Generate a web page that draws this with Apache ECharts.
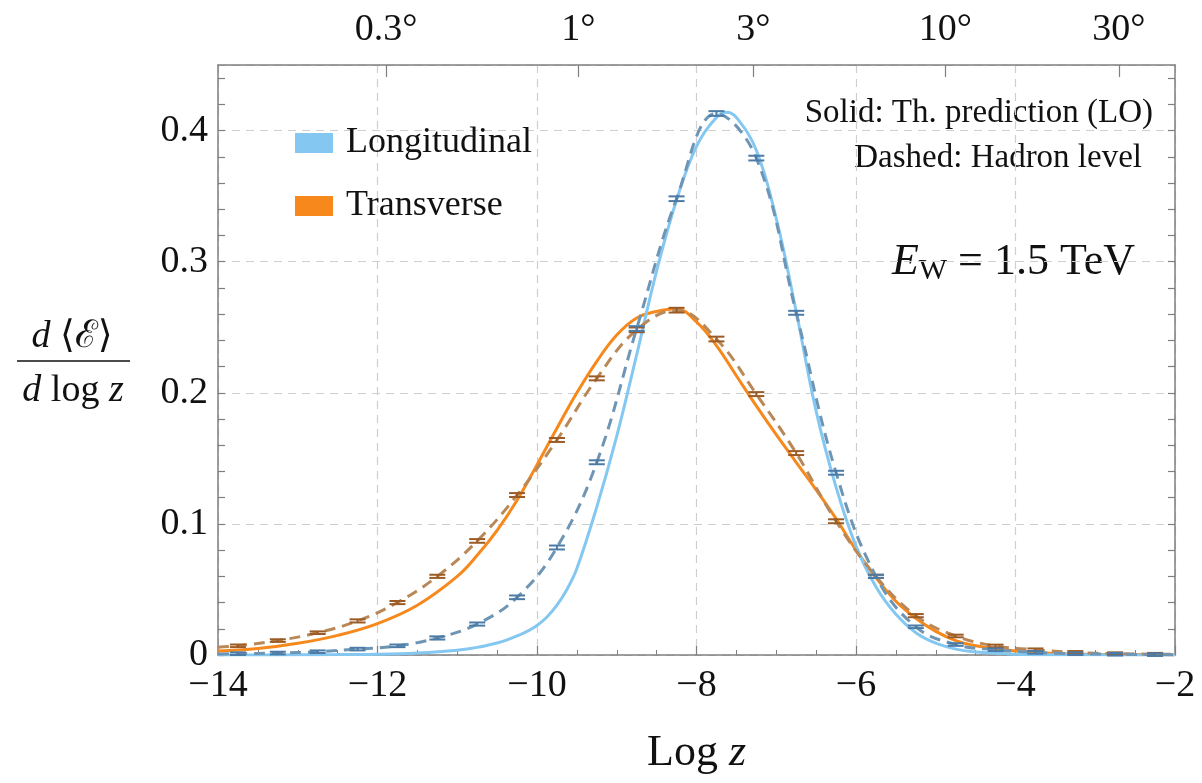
<!DOCTYPE html>
<html><head><meta charset="utf-8">
<script src="https://cdn.jsdelivr.net/npm/echarts@6/dist/echarts.min.js"></script>
<style>html,body{margin:0;padding:0;background:#fff}#c{width:1202px;height:783px}</style>
</head><body><div id="c"></div>
<script>
// ---- Data ----
// hadron-level bins (bin centres in log z)
const binX = [-13.75,-13.25,-12.75,-12.25,-11.75,-11.25,-10.75,-10.25,-9.75,-9.25,-8.75,-8.25,-7.75,-7.25,-6.75,-6.25,-5.75,-5.25,-4.75,-4.25,-3.75,-3.25,-2.75,-2.25];
const hadronL = [0.001,0.0015,0.0025,0.0045,0.007,0.013,0.0236,0.044,0.082,0.147,0.249,0.348,0.413,0.379,0.261,0.139,0.060,0.0215,0.008,0.004,0.002,0.001,0.0006,0.0003];
const hadronT = [0.007,0.011,0.017,0.026,0.040,0.060,0.087,0.122,0.164,0.211,0.248,0.263,0.241,0.199,0.154,0.102,0.060,0.030,0.0145,0.0069,0.004,0.002,0.001,0.0006];
const errL = [0.001,0.001,0.001,0.001,0.001,0.0012,0.0012,0.0014,0.0015,0.0015,0.0018,0.0018,0.0018,0.0018,0.0015,0.0015,0.0012,0.001,0.001,0.001,0.001,0.001,0.001,0.001];
const errT = [0.001,0.001,0.001,0.0012,0.0012,0.0012,0.0014,0.0015,0.0015,0.0015,0.0018,0.0018,0.0018,0.0015,0.0015,0.0015,0.0012,0.0012,0.001,0.001,0.001,0.001,0.001,0.001];
// dashed curves end points (at log z = -14 and -2)
const dashEndX = [-14, -2];
const dashEndL = [0.0007, 0.0002];
const dashEndT = [0.006, 0.0005];
// LO theory curves
const thLX = [-14,-13.5,-13,-12.5,-12,-11.5,-11,-10.75,-10.5,-10.375,-10.25,-10.125,-10,-9.875,-9.75,-9.625,-9.5,-9.25,-9,-8.75,-8.5,-8.25,-8,-7.75,-7.625,-7.5,-7.25,-7,-6.75,-6.5,-6.25,-6,-5.75,-5.5,-5.25,-5,-4.75,-4.5,-4,-3.5,-3,-2];
const thL  = [0,0,0.0001,0.0003,0.0006,0.0016,0.0037,0.0058,0.0092,0.0115,0.0145,0.018,0.0225,0.029,0.038,0.050,0.066,0.113,0.167,0.229,0.293,0.347,0.388,0.410,0.414,0.410,0.385,0.333,0.262,0.186,0.128,0.083,0.052,0.031,0.017,0.009,0.0045,0.0022,0.0006,0.0002,0.0001,0];
const thTX = [-14,-13.5,-13,-12.5,-12,-11.5,-11,-10.75,-10.5,-10.25,-10,-9.75,-9.5,-9.25,-9,-8.75,-8.5,-8.25,-8,-7.75,-7.5,-7.25,-7,-6.75,-6.5,-6.25,-6,-5.75,-5.5,-5.25,-5,-4.75,-4.5,-4,-3.5,-3,-2];
const thT  = [0.003,0.005,0.009,0.015,0.024,0.038,0.060,0.076,0.095,0.118,0.145,0.173,0.200,0.224,0.244,0.257,0.262,0.264,0.254,0.236,0.213,0.190,0.168,0.147,0.126,0.104,0.080,0.059,0.041,0.028,0.018,0.011,0.007,0.003,0.0012,0.0005,0.0001];
// axis ticks
const yTickLabels = ['0','0.1','0.2','0.3','0.4'];
const topDeg = [0.3, 1, 3, 10, 30];
const topLabels = ['0.3°','1°','3°','10°','30°'];

// ---- build ----
const FONT = '"Liberation Serif", "DejaVu Serif", serif';
const topPos = topDeg.map(d => 2 * Math.log(Math.sin(d * Math.PI / 360)));
const yMinor = []; for (let i = 0; i <= 22; i++) yMinor.push(+(i * 0.02).toFixed(2));
const zip = (xs, ys) => xs.map((x, i) => [x, ys[i]]);
const dashL = [[dashEndX[0], dashEndL[0]], ...zip(binX, hadronL), [dashEndX[1], dashEndL[1]]];
const dashT = [[dashEndX[0], dashEndT[0]], ...zip(binX, hadronT), [dashEndX[1], dashEndT[1]]];

const C = {
  blue: '#84c8f2', orange: '#f7891c',
  blueDash: '#6f95b5', orangeDash: '#b98858',
  blueErr: '#4b7ba6', orangeErr: '#9c5b24',
  frame: '#7f7f7f', grid: '#cfcfcf'
};

function errSeries(name, data, color) {
  return {
    type: 'custom', name: name, z: 10, silent: true,
    data: data,
    renderItem: function (params, api) {
      const x = api.value(0), y = api.value(1), e = api.value(2);
      const p0 = api.coord([x, y - e]);
      const p1 = api.coord([x, y + e]);
      const hw = 8;
      const st = { stroke: color, lineWidth: 2 };
      return {
        type: 'group', children: [
          { type: 'line', shape: { x1: p0[0], y1: p0[1], x2: p1[0], y2: p1[1] }, style: st },
          { type: 'line', shape: { x1: p0[0] - hw, y1: p0[1], x2: p0[0] + hw, y2: p0[1] }, style: st },
          { type: 'line', shape: { x1: p1[0] - hw, y1: p1[1], x2: p1[0] + hw, y2: p1[1] }, style: st }
        ]
      };
    }
  };
}

const chart = echarts.init(document.getElementById('c'), null, { renderer: 'canvas' });
const option = {
  backgroundColor: '#fff',
  animation: false,
  textStyle: { fontFamily: FONT },
  grid: { left: 218, right: 27, top: 65, bottom: 128 },
  legend: {
    data: ['Longitudinal', 'Transverse'],
    orient: 'vertical', left: 290, top: 120,
    icon: 'rect', itemWidth: 38, itemHeight: 20, itemGap: 27,
    textStyle: { fontFamily: FONT, fontSize: 36, color: '#111', lineHeight: 36, padding: [0, 0, 0, 8] }
  },
  xAxis: [{
    type: 'value', position: 'bottom', min: -14, max: -2, interval: 2,
    name: '{a|Log }{b|z}', nameLocation: 'middle', nameGap: 76,
    nameTextStyle: { rich: { a: { fontFamily: FONT, fontSize: 44, color: '#111' }, b: { fontFamily: FONT, fontSize: 44, fontStyle: 'italic', color: '#111' } } },
    axisLine: { show: true, onZero: false, lineStyle: { color: C.frame, width: 1.5 } },
    axisTick: { show: true, inside: true, length: 9, lineStyle: { color: C.frame, width: 1.2 } },
    minorTick: { show: true, splitNumber: 4, length: 5, lineStyle: { color: C.frame, width: 1 } },
    axisLabel: { margin: 12, fontFamily: FONT, fontSize: 38, color: '#111',
      formatter: v => (v < 0 ? '\u2212' + Math.abs(v) : String(v)) },
    splitLine: { show: true, lineStyle: { color: C.grid, type: [8, 6], width: 1.2 } },
    minorSplitLine: { show: false }
  }, {
    type: 'value', position: 'top', min: -14, max: -2,
    axisLine: { show: true, onZero: false, lineStyle: { color: C.frame, width: 1.5 } },
    axisTick: { show: true, inside: true, length: 12, customValues: topPos, lineStyle: { color: C.frame, width: 1.2 } },
    axisLabel: { show: true, customValues: topPos, margin: 16, fontFamily: FONT, fontSize: 38, color: '#111',
      formatter: v => { let k = 0, best = 1e9; topPos.forEach((p, i) => { const d = Math.abs(p - v); if (d < best) { best = d; k = i; } }); return topLabels[k]; } },
    splitLine: { show: false }
  }],
  yAxis: [{
    type: 'value', position: 'left', min: 0, max: 0.45, interval: 0.1,
    axisLine: { show: true, onZero: false, lineStyle: { color: C.frame, width: 1.5 } },
    axisTick: { show: false },
    axisLabel: { margin: 10, fontFamily: FONT, fontSize: 38, color: '#111', showMaxLabel: false,
      formatter: v => { const i = Math.round(v * 10); return Math.abs(v * 10 - i) < 1e-6 && i < yTickLabels.length ? yTickLabels[i] : ''; } },
    splitLine: { show: true, lineStyle: { color: C.grid, type: [8, 6], width: 1.2 } }
  }, {
    type: 'value', position: 'left', min: 0, max: 0.45,
    axisLine: { show: false },
    axisTick: { show: true, inside: true, length: 7, customValues: yMinor, lineStyle: { color: C.frame, width: 1.2 } },
    axisLabel: { show: false }, splitLine: { show: false }
  }, {
    type: 'value', position: 'right', min: 0, max: 0.45,
    axisLine: { show: true, onZero: false, lineStyle: { color: C.frame, width: 1.5 } },
    axisTick: { show: true, inside: true, length: 7, customValues: yMinor, lineStyle: { color: C.frame, width: 1.2 } },
    axisLabel: { show: false }, splitLine: { show: false }
  }],
  series: [
    { name: 'Transverse', type: 'line', data: zip(thTX, thT), smooth: 0.4, showSymbol: false, symbol: 'none', silent: true, z: 3,
      itemStyle: { color: C.orange }, lineStyle: { color: C.orange, width: 3 } },
    { name: 'Longitudinal', type: 'line', data: zip(thLX, thL), smooth: 0.4, showSymbol: false, symbol: 'none', silent: true, z: 3,
      itemStyle: { color: C.blue }, lineStyle: { color: C.blue, width: 3 } },
    { name: 'Transverse (hadron)', type: 'line', data: dashT, smooth: 0.4, showSymbol: false, symbol: 'none', silent: true, z: 4,
      itemStyle: { color: C.orangeDash }, lineStyle: { color: C.orangeDash, width: 3, type: [11, 7] } },
    { name: 'Longitudinal (hadron)', type: 'line', data: dashL, smooth: 0.4, showSymbol: false, symbol: 'none', silent: true, z: 4,
      itemStyle: { color: C.blueDash }, lineStyle: { color: C.blueDash, width: 3, type: [11, 7] } },
    errSeries('errT', binX.map((x, i) => [x, hadronT[i], errT[i]]), C.orangeErr),
    errSeries('errL', binX.map((x, i) => [x, hadronL[i], errL[i]]), C.blueErr)
  ],
  graphic: [
    { type: 'text', x: 72, y: 337, style: { text: '{i|d} \u27E8\u2130\u27E9', align: 'center', verticalAlign: 'middle', fontFamily: FONT, fontSize: 38, fill: '#111',
        rich: { i: { fontStyle: 'italic', fontFamily: FONT, fontSize: 38 } } } },
    { type: 'line', shape: { x1: 17, y1: 361, x2: 130, y2: 361 }, style: { stroke: '#111', lineWidth: 1.5 } },
    { type: 'text', x: 73, y: 391, style: { text: '{i|d} log {i|z}', align: 'center', verticalAlign: 'middle', fontFamily: FONT, fontSize: 38, fill: '#111',
        rich: { i: { fontStyle: 'italic', fontFamily: FONT, fontSize: 38 } } } },
    { type: 'text', x: 1153, y: 113, style: { text: 'Solid: Th. prediction (LO)', align: 'right', verticalAlign: 'middle', fontFamily: FONT, fontSize: 33, fill: '#111' } },
    { type: 'text', x: 1142, y: 158, style: { text: 'Dashed: Hadron level', align: 'right', verticalAlign: 'middle', fontFamily: FONT, fontSize: 33, fill: '#111' } },
    { type: 'text', x: 1135, y: 262, style: { text: '{e|E}{s|W} = 1.5 TeV', align: 'right', verticalAlign: 'middle', fontFamily: FONT, fontSize: 44, fill: '#111',
        rich: { e: { fontStyle: 'italic', fontFamily: FONT, fontSize: 44 }, s: { fontFamily: FONT, fontSize: 30, padding: [18, 0, 0, 0] } } } }
  ]
};
chart.setOption(option);
</script>
</body></html>
